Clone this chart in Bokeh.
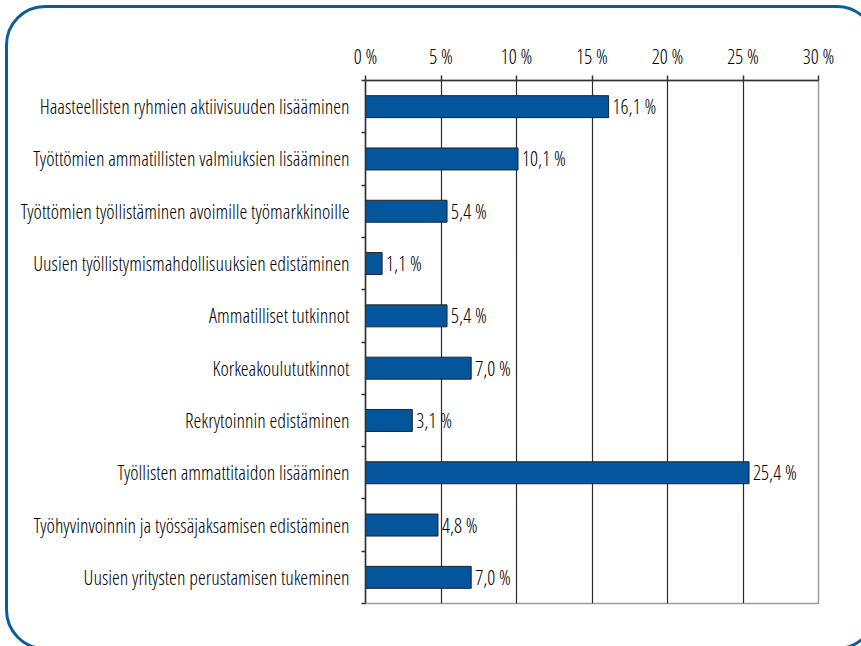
from bokeh.plotting import figure
from bokeh.models import Range1d, FixedTicker, ColumnDataSource
from bokeh.core.properties import value
from bokeh.embed import file_html
from bokeh.resources import INLINE

categories = [
    "Haasteellisten ryhmien aktiivisuuden lisääminen",
    "Työttömien ammatillisten valmiuksien lisääminen",
    "Työttömien työllistäminen avoimille työmarkkinoille",
    "Uusien työllistymismahdollisuuksien edistäminen",
    "Ammatilliset tutkinnot",
    "Korkeakoulututkinnot",
    "Rekrytoinnin edistäminen",
    "Työllisten ammattitaidon lisääminen",
    "Työhyvinvoinnin ja työssäjaksamisen edistäminen",
    "Uusien yritysten perustamisen tukeminen",
]
values = [16.1, 10.1, 5.4, 1.1, 5.4, 7.0, 3.1, 25.4, 4.8, 7.0]
x_ticks = [0, 5, 10, 15, 20, 25, 30]
x_tick_labels = ["0 %", "5 %", "10 %", "15 %", "20 %", "25 %", "30 %"]

FONT = "Open Sans Condensed Light"
FSIZE = "20px"
TXT = "#000000"
BLUE = "#03569b"
FRAME_BLUE = "#0b5c9e"

n = len(categories)
centers = [i + 0.5 for i in range(n)]
bounds = list(range(n + 1))
value_labels = [("%.1f %%" % v).replace(".", ",") for v in values]

src = ColumnDataSource(dict(y=centers, v=values, lab=value_labels))

p = figure(width=861, height=646, output_backend="svg", toolbar_location=None,
           x_range=Range1d(0, 30), y_range=Range1d(n, 0),
           x_axis_location="above", tools="")
p.frame_width = 453
p.frame_height = 523
p.min_border_left = 365
p.min_border_top = 80
p.min_border_right = 43
p.min_border_bottom = 43
p.background_fill_color = "white"
p.border_fill_color = "white"
p.outline_line_color = "#9c9c9c"
p.outline_line_width = 1.5

# x axis (top)
xa = p.xaxis[0]
xa.ticker = FixedTicker(ticks=x_ticks, minor_ticks=[])
xa.major_label_overrides = {t: l for t, l in zip(x_ticks, x_tick_labels)}
xa.major_label_text_font = FONT
xa.major_label_text_font_size = FSIZE
xa.major_label_text_color = TXT
xa.axis_line_color = "#333333"
xa.axis_line_width = 1.5
xa.major_tick_line_color = "#333333"
xa.major_tick_line_width = 1.5
xa.major_tick_out = 5
xa.major_tick_in = 0
xa.minor_tick_line_color = None
xa.major_label_standoff = 6

# y axis (left)
ya = p.yaxis[0]
ya.ticker = FixedTicker(ticks=centers, minor_ticks=bounds)
ya.major_label_overrides = {c: l for c, l in zip(centers, categories)}
ya.major_label_text_font = FONT
ya.major_label_text_font_size = FSIZE
ya.major_label_text_color = TXT
ya.axis_line_color = "#333333"
ya.axis_line_width = 1.5
ya.major_tick_line_color = None
ya.major_tick_out = 0
ya.major_tick_in = 0
ya.minor_tick_line_color = "#333333"
ya.minor_tick_line_width = 1.5
ya.minor_tick_out = 4
ya.minor_tick_in = 0
ya.major_label_standoff = 12

p.xgrid.ticker = FixedTicker(ticks=x_ticks[1:-1])
p.xgrid.grid_line_color = "#2a2a2a"
p.xgrid.grid_line_width = 1.2
p.ygrid.grid_line_color = None

p.hbar(y="y", right="v", left=0, height=0.42, source=src,
       fill_color=BLUE, line_color="#222222", line_width=1)
p.text(x="v", y="y", text="lab", source=src, x_offset=4,
       text_baseline="middle", text_align="left",
       text_font=value(FONT), text_font_size=FSIZE, text_color=TXT)

# rounded blue frame around the whole chart (decoration, drawn with CSS)
p.stylesheets = [":host { overflow: hidden; } "
                 ":host::after { content: ''; position: absolute; left: 5px; top: 5px; "
                 "width: 872px; height: 645px; border: 3px solid " + FRAME_BLUE + "; "
                 "border-radius: 40px; pointer-events: none; box-sizing: border-box; }"]

open("out.html", "w").write(file_html(p, INLINE))
